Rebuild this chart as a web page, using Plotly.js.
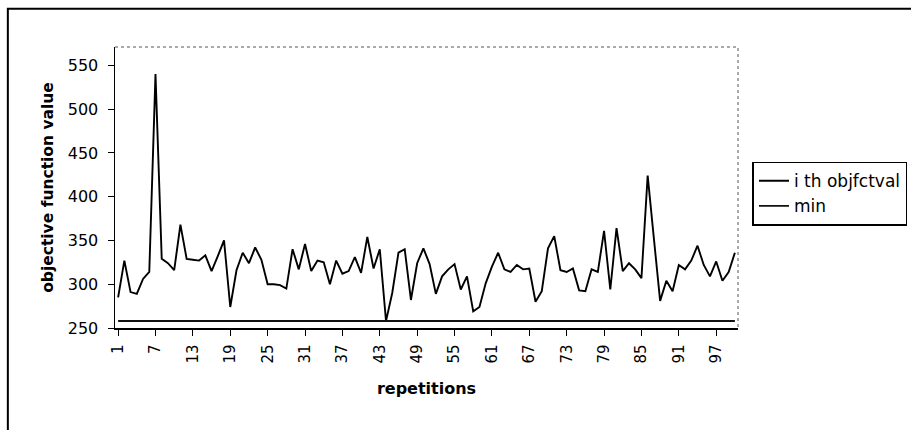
<!DOCTYPE html>
<html>
<head>
<meta charset="utf-8">
<script src="https://cdn.plot.ly/plotly-3.0.1.min.js"></script>
<style>
  html, body { margin: 0; padding: 0; background: #fff; }
  #chart { width: 911px; height: 430px; }
</style>
</head>
<body>
<div id="chart"></div>
<script>
// ---- data ----
const repetitions = Array.from({length: 100}, (_, k) => k + 1);
const objValues = [
  285, 327, 291, 289, 306, 314, 540, 329, 324, 316,
  368, 329, 328, 327, 333, 315, 332, 350, 274, 316,
  336, 324, 342, 328, 300, 300, 299, 295, 340, 317,
  346, 315, 327, 325, 300, 327, 312, 315, 331, 313,
  354, 318, 340, 258, 290, 336, 340, 282, 324, 341,
  323, 289, 309, 317, 323, 294, 309, 269, 274, 301,
  320, 336, 317, 314, 322, 317, 318, 280, 292, 341,
  355, 316, 314, 318, 293, 292, 317, 314, 361, 294,
  364, 315, 324, 317, 307, 424, 352, 281, 304, 292,
  322, 317, 327, 344, 322, 309, 326, 304, 314, 336
];
const minValue = 258;
const minValues = repetitions.map(() => minValue);
const xTickVals = [1, 7, 13, 19, 25, 31, 37, 43, 49, 55, 61, 67, 73, 79, 85, 91, 97];
const yTickVals = [250, 300, 350, 400, 450, 500, 550];
const seriesNames = ['i th objfctval', 'min'];

const FONT = 'DejaVu Sans, Arial, sans-serif';

const traces = [
  {
    x: repetitions, y: objValues, name: seriesNames[0],
    type: 'scatter', mode: 'lines',
    line: {color: '#000000', width: 1.9}
  },
  {
    x: repetitions, y: minValues, name: seriesNames[1],
    type: 'scatter', mode: 'lines',
    line: {color: '#111111', width: 1.9}
  }
];

const layout = {
  width: 911, height: 430,
  margin: {l: 115, r: 173, t: 47, b: 102, pad: 0},
  paper_bgcolor: '#ffffff', plot_bgcolor: '#ffffff',
  font: {family: FONT, color: '#000000', size: 15},
  showlegend: true,
  legend: {
    xref: 'container', yref: 'container',
    x: 0.826, y: 0.624, xanchor: 'left', yanchor: 'top',
    bordercolor: '#000000', borderwidth: 1.5, bgcolor: '#ffffff',
    font: {family: FONT, size: 17, color: '#000000'},
    tracegroupgap: 0, itemwidth: 30
  },
  xaxis: {
    range: [0.5, 100.5],
    tickmode: 'array', tickvals: xTickVals, ticktext: xTickVals.map(String),
    tickangle: -90, ticks: 'outside', ticklen: 6, tickcolor: '#000',
    showline: true, linecolor: '#000000', linewidth: 1.5,
    showgrid: false, zeroline: false,
    ticklabelstandoff: 3,
    tickfont: {family: FONT, size: 15, color: '#000'},
    title: {text: 'repetitions', standoff: 20,
            font: {family: FONT, size: 16, weight: 'bold', color: '#000'}}
  },
  yaxis: {
    range: [250, 571],
    tickmode: 'array', tickvals: yTickVals,
    ticks: 'outside', ticklen: 6, tickcolor: '#000',
    showline: true, linecolor: '#000000', linewidth: 1.5,
    showgrid: false, zeroline: false,
    ticklabelstandoff: 6,
    tickfont: {family: FONT, size: 16, color: '#000'},
    title: {text: 'objective function value', standoff: 10,
            font: {family: FONT, size: 15.5, weight: 'bold', color: '#000'}}
  },
  shapes: [
    // dotted plot-area frame (top and right)
    {type: 'path', xref: 'paper', yref: 'paper',
     path: 'M 0,1 L 1,1 L 1,0',
     line: {color: '#555555', width: 1, dash: 'dot'}},
    // outer chart border (left and top visible)
    {type: 'path', xref: 'paper', yref: 'paper',
     path: 'M -0.172,-0.4 L -0.172,1.136 L 1.3,1.136',
     line: {color: '#000000', width: 2}}
  ]
};

Plotly.newPlot('chart', traces, layout, {displayModeBar: false, staticPlot: true});
</script>
</body>
</html>
